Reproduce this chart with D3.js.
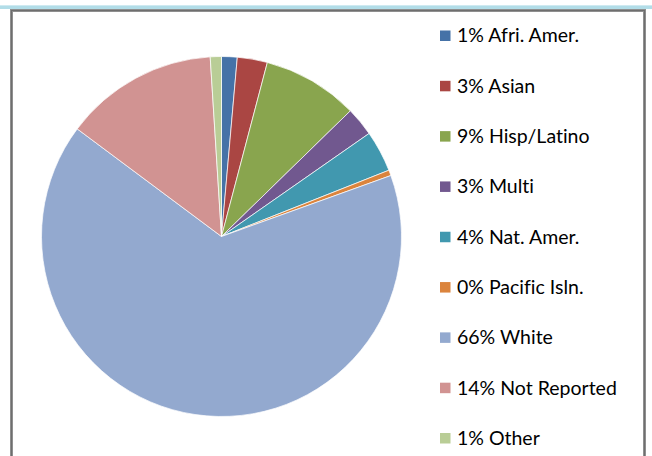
<!DOCTYPE html>
<html>
<head>
<meta charset="utf-8">
<script src="https://cdn.jsdelivr.net/npm/d3@7"></script>
<style>
  html, body { margin: 0; padding: 0; background: #ffffff; }
  svg { display: block; }
  text { font-variant-ligatures: none; font-feature-settings: "liga" 0; }
</style>
</head>
<body>
<svg id="chart" width="652" height="456"></svg>
<script>
const categories = ["Afri. Amer.", "Asian", "Hisp/Latino", "Multi", "Nat. Amer.", "Pacific Isln.", "White", "Not Reported", "Other"];
const values = [1.4, 2.7, 8.6, 2.6, 3.7, 0.5, 65.7, 13.8, 1.0];
const legendLabels = ["1% Afri. Amer.", "3% Asian", "9% Hisp/Latino", "3% Multi", "4% Nat. Amer.", "0% Pacific Isln.", "66% White", "14% Not Reported", "1% Other"];
const colors = ["#4572A7", "#AA4643", "#89A54E", "#71588F", "#4198AF", "#DB843D", "#93A9CF", "#D19392", "#B9CD96"];

const svg = d3.select("#chart");

// top decorative line
svg.append("rect").attr("x", 0).attr("y", 5).attr("width", 652).attr("height", 4).attr("fill", "#b2dde8");
svg.append("rect").attr("x", 0).attr("y", 5).attr("width", 652).attr("height", 1).attr("fill", "#cfeaf1");

// chart border
svg.append("rect").attr("x", 11.5).attr("y", 10.5).attr("width", 633).attr("height", 460)
  .attr("fill", "#ffffff").attr("stroke", "#8f8f8f").attr("stroke-width", 3);
svg.append("rect").attr("x", 11.5).attr("y", 10.5).attr("width", 633).attr("height", 460)
  .attr("fill", "none").attr("stroke", "#6e6e6e").attr("stroke-width", 1);

const data = categories.map((c, i) => ({ cat: c, value: values[i], color: colors[i], label: legendLabels[i] }));

const cx = 221.5, cy = 236.5, r = 180;
const pie = d3.pie().value(d => d.value).sort(null);
const arc = d3.arc().innerRadius(0).outerRadius(r);

const g = svg.append("g").attr("transform", `translate(${cx},${cy})`);
g.selectAll("path").data(pie(data)).enter().append("path")
  .attr("d", arc)
  .attr("fill", d => d.data.color)
  .attr("stroke", "#ffffff")
  .attr("stroke-width", 0.7);

// legend
const legY = d3.scalePoint().domain(categories).range([35.5, 438]);
const leg = svg.append("g");
const items = leg.selectAll("g").data(data).enter().append("g")
  .attr("transform", d => `translate(0,${legY(d.cat)})`);
items.append("rect").attr("x", 440).attr("y", -5).attr("width", 10.5).attr("height", 10.5).attr("fill", d => d.color);
items.append("text").attr("x", 457).attr("y", 0).attr("dy", "0.35em")
  .attr("font-family", "Lato, 'Open Sans', sans-serif").attr("font-size", 19.5)
  .attr("fill", "#000000")
  .text(d => d.label);
</script>
</body>
</html>
